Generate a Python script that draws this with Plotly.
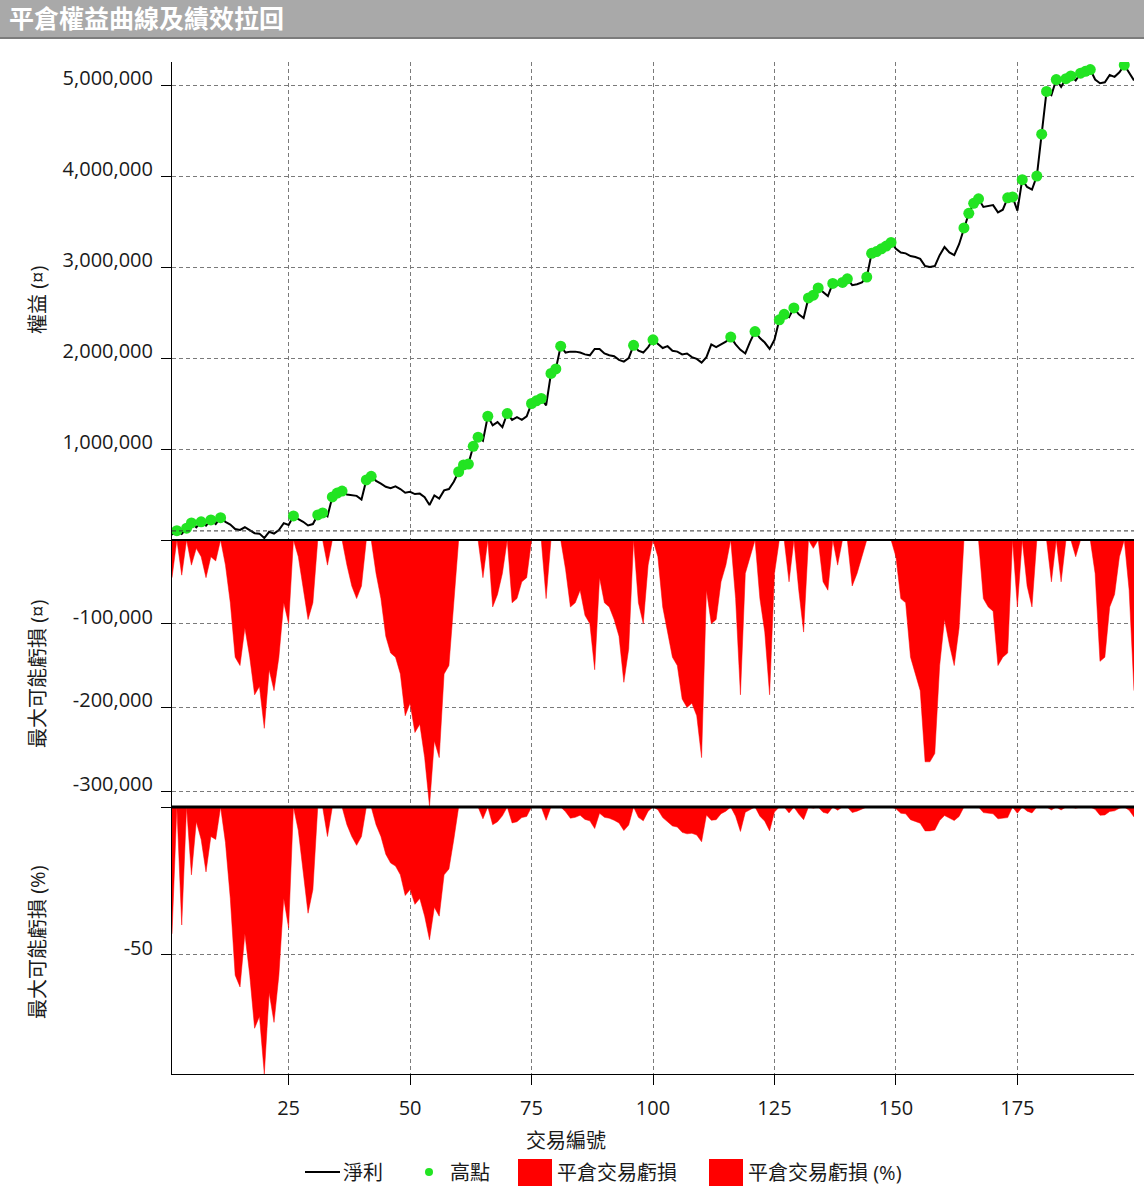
import plotly.graph_objects as go

# ---------------- data ----------------
trade_no = list(range(1, 200))

equity = [
    58000, 103000, 66000, 130000, 187000, 140000, 200000, 157000, 220000, 176000,
    245000, 200000, 170000, 120000, 110000, 140000, 110000, 75000, 70000, 22000,
    90000, 70000, 110000, 185000, 165000, 264000, 230000, 200000, 160000, 175000,
    275000, 297000, 260000, 473000, 516000, 538000, 500000, 490000, 485000, 445000,
    660000, 700000, 650000, 620000, 585000, 570000, 590000, 560000, 520000, 530000,
    505000, 510000, 470000, 385000, 490000, 455000, 545000, 560000, 640000, 750000,
    825000, 835000, 1030000, 1130000, 1090000, 1360000, 1260000, 1295000, 1240000, 1390000,
    1320000, 1350000, 1320000, 1360000, 1500000, 1530000, 1555000, 1480000, 1830000, 1880000,
    2130000, 2060000, 2070000, 2070000, 2060000, 2040000, 2030000, 2100000, 2100000, 2050000,
    2030000, 2020000, 1980000, 1960000, 2000000, 2140000, 2080000, 2060000, 2120000, 2200000,
    2160000, 2110000, 2130000, 2080000, 2070000, 2040000, 2050000, 2010000, 1990000, 1950000,
    2010000, 2150000, 2120000, 2150000, 2180000, 2230000, 2150000, 2090000, 2050000, 2180000,
    2290000, 2220000, 2170000, 2100000, 2200000, 2420000, 2480000, 2450000, 2550000, 2480000,
    2440000, 2660000, 2690000, 2770000, 2720000, 2680000, 2820000, 2800000, 2830000, 2870000,
    2800000, 2810000, 2830000, 2890000, 3150000, 3170000, 3200000, 3230000, 3270000, 3200000,
    3160000, 3150000, 3120000, 3110000, 3090000, 3010000, 3000000, 3010000, 3130000, 3220000,
    3160000, 3130000, 3250000, 3430000, 3590000, 3700000, 3750000, 3660000, 3670000, 3680000,
    3600000, 3630000, 3760000, 3770000, 3620000, 3960000, 3880000, 3850000, 4000000, 4460000,
    4930000, 4890000, 5060000, 4980000, 5070000, 5100000, 5050000, 5130000, 5150000, 5170000,
    5060000, 5020000, 5030000, 5110000, 5090000, 5140000, 5220000, 5140000, 5050000,
]

high_trades = [2, 4, 5, 7, 9, 11, 26, 31, 32, 34, 35, 36, 41, 42, 60, 61, 62, 63, 64, 66,
               70, 75, 76, 77, 79, 80, 81, 96, 100, 116, 121, 126, 127, 129, 132, 133, 134,
               137, 139, 140, 144, 145, 146, 147, 148, 149, 164, 165, 166, 167, 173, 174,
               176, 179, 180, 181, 183, 185, 186, 188, 189, 190, 197]

drawdown = [
    -45000, 0, -42000, 0, -30000, -10000, -20000, -45000, -20000, -25000,
    0, -30000, -75000, -140000, -150000, -105000, -140000, -185000, -175000, -225000,
    -155000, -180000, -140000, -75000, -100000, 0, -20000, -60000, -95000, -75000,
    0, 0, -30000, 0, 0, 0, -30000, -55000, -70000, -55000,
    0, 0, -40000, -70000, -115000, -135000, -140000, -160000, -210000, -195000,
    -230000, -220000, -260000, -318000, -240000, -260000, -160000, -150000, -75000, 0,
    0, 0, 0, 0, -45000, 0, -80000, -65000, -40000, 0,
    -75000, -70000, -50000, -45000, 0, 0, 0, -70000, 0, 0,
    0, -35000, -80000, -75000, -60000, -90000, -100000, -155000, -45000, -75000,
    -80000, -95000, -115000, -170000, -130000, 0, -75000, -100000, -30000, 0,
    -20000, -80000, -110000, -140000, -150000, -190000, -200000, -195000, -210000, -260000,
    -60000, -100000, -95000, -50000, -30000, 0, -70000, -185000, -40000, -20000,
    0, -70000, -110000, -185000, -40000, 0, 0, -50000, 0, -60000,
    -110000, 0, -10000, 0, -50000, -60000, 0, -30000, 0, 0,
    -55000, -40000, -20000, 0, 0, 0, 0, 0, 0, -20000,
    -70000, -75000, -140000, -160000, -180000, -265000, -265000, -255000, -150000, -95000,
    -125000, -150000, -105000, 0, 0, 0, 0, -70000, -80000, -85000,
    -150000, -140000, -135000, 0, -80000, 0, -55000, -80000, 0, 0,
    0, -50000, 0, -50000, 0, 0, -20000, 0, 0, 0,
    -40000, -145000, -140000, -80000, -65000, -20000, 0, -60000, -180000,
]

drawdown_pct = [
    -43, 0, -40, 0, -23, -5, -11, -22, -10, -11,
    0, -12, -31, -57, -61, -43, -57, -75, -71, -90.5,
    -63, -73, -57, -31, -41, 0, -8, -23, -36, -28,
    0, 0, -10, 0, 0, 0, -6, -10, -13, -10,
    0, 0, -6, -10, -16, -19, -20, -23, -30, -28,
    -33, -31, -37, -45, -34, -37, -23, -21, -11, 0,
    0, 0, 0, 0, -4, 0, -6, -5, -3, 0,
    -5.4, -5, -3.6, -3.2, 0, 0, 0, -4.5, 0, 0,
    0, -1.6, -3.8, -3.5, -2.8, -4.2, -4.7, -7.3, -2.1, -3.5,
    -3.8, -4.5, -5.4, -8.0, -6.1, 0, -3.5, -4.7, -1.4, 0,
    -0.9, -3.6, -5.0, -6.4, -6.8, -8.6, -9.1, -8.9, -9.5, -11.8,
    -2.7, -4.5, -4.3, -2.3, -1.4, 0, -3.1, -8.3, -1.8, -0.9,
    0, -3.1, -4.8, -8.1, -1.7, 0, 0, -2.0, 0, -2.4,
    -4.3, 0, -0.4, 0, -1.8, -2.2, 0, -1.1, 0, 0,
    -1.9, -1.4, -0.7, 0, 0, 0, 0, 0, 0, -0.6,
    -2.1, -2.3, -4.3, -4.9, -5.5, -8.1, -8.1, -7.8, -4.6, -2.9,
    -3.8, -4.6, -3.2, 0, 0, 0, 0, -1.9, -2.1, -2.3,
    -4.0, -3.7, -3.6, 0, -2.1, 0, -1.4, -2.0, 0, 0,
    0, -1.0, 0, -1.0, 0, 0, -0.4, 0, 0, 0,
    -0.8, -2.8, -2.7, -1.5, -1.3, -0.4, 0, -1.1, -3.4,
]

initial_capital = 100000

x_ticks = [25, 50, 75, 100, 125, 150, 175]
eq_ticks = [0, 1000000, 2000000, 3000000, 4000000, 5000000]
eq_ticktext = ["", "1,000,000", "2,000,000", "3,000,000", "4,000,000", "5,000,000"]
dd_ticks = [0, -100000, -200000, -300000]
dd_ticktext = ["", "-100,000", "-200,000", "-300,000"]
pct_ticks = [0, -50]
pct_ticktext = ["", "-50"]

title_text = "平倉權益曲線及績效拉回"
y1_title = "權益 (¤)"
y2_title = "最大可能虧損 (¤)"
y3_title = "最大可能虧損 (%)"
x_title = "交易編號"
legend_names = ["淨利", "高點", "平倉交易虧損", "平倉交易虧損 (%)"]

# ---------------- geometry ----------------
W, H = 1144, 1188
L, R, T, B = 172, 10, 62, 114
PW, PH = W - L - R, H - T - B


def px(xp):
    return (xp - L) / PW


def py(yp):
    return (H - B - yp) / PH


FONT = "Open Sans, Noto Sans CJK TC, sans-serif"
GRID = "#7a7a7a"
TXT = "#1a1a1a"
high_equity = [equity[t - 1] for t in high_trades]

fig = go.Figure()
fig.add_trace(go.Scatter(x=trade_no, y=equity, mode="lines", name=legend_names[0],
                         line=dict(color="black", width=2), xaxis="x2", yaxis="y",
                         showlegend=False))
fig.add_trace(go.Scatter(x=high_trades, y=high_equity, mode="markers", name=legend_names[1],
                         marker=dict(color="#22e422", size=11), xaxis="x2", yaxis="y",
                         showlegend=False))
fig.add_trace(go.Scatter(x=trade_no, y=drawdown, mode="lines", name=legend_names[2],
                         fill="tozeroy", fillcolor="#ff0000",
                         line=dict(color="#ff0000", width=0.5), xaxis="x3", yaxis="y2",
                         showlegend=False))
fig.add_trace(go.Scatter(x=trade_no, y=drawdown_pct, mode="lines", name=legend_names[3],
                         fill="tozeroy", fillcolor="#ff0000",
                         line=dict(color="#ff0000", width=0.5), xaxis="x", yaxis="y3",
                         showlegend=False))

d_top = py(540)
d_mid = py(807)

xcommon = dict(range=[1, 199], tickvals=x_ticks, showgrid=True, gridcolor=GRID,
               griddash="4px,3px", gridwidth=1, zeroline=False)
ycommon = dict(showgrid=True, gridcolor=GRID, griddash="4px,3px", gridwidth=1,
               zeroline=False, showline=True, linecolor="black", linewidth=1,
               ticks="outside", ticklen=10, tickcolor="black", ticklabelshift=-7,
               ticklabelstandoff=4,
               tickfont=dict(family=FONT, size=20, color=TXT))

fig.update_layout(
    width=W, height=H,
    margin=dict(l=L, r=R, t=T, b=B),
    paper_bgcolor="white", plot_bgcolor="white",
    showlegend=False,
    font=dict(family=FONT, size=20, color=TXT),
    xaxis=dict(domain=[0, 1], anchor="y3", showline=True, linecolor="black", linewidth=1,
               ticks="outside", ticklen=10, tickcolor="black", ticklabelstandoff=6,
               tickfont=dict(family=FONT, size=20, color=TXT), **xcommon),
    xaxis2=dict(domain=[0, 1], anchor="y", matches="x", showticklabels=False, ticks="",
                showline=False, **xcommon),
    xaxis3=dict(domain=[0, 1], anchor="y2", matches="x", showticklabels=False, ticks="",
                showline=False, **xcommon),
    yaxis=dict(domain=[d_top, 1], anchor="x2", range=[0, 5253000], tickvals=eq_ticks,
               ticktext=eq_ticktext, **ycommon),
    yaxis2=dict(domain=[d_mid, d_top], anchor="x3", range=[-319000, 0], tickvals=dd_ticks,
                ticktext=dd_ticktext, **ycommon),
    yaxis3=dict(domain=[0, d_mid], anchor="x", range=[-90.5, 0], tickvals=pct_ticks,
                ticktext=pct_ticktext, **ycommon),
)

shapes = [
    # title bar
    dict(type="rect", xref="paper", yref="paper", x0=px(0), x1=px(W), y0=py(0), y1=py(37),
         fillcolor="#a9a9a9", line=dict(width=0), layer="below"),
    dict(type="line", xref="paper", yref="paper", x0=px(0), x1=px(W), y0=py(38), y1=py(38),
         line=dict(color="#7c7c7c", width=2)),
    # initial capital line
    dict(type="line", xref="paper", yref="y", x0=0, x1=1, y0=initial_capital, y1=initial_capital,
         line=dict(color="#333", width=1, dash="4px,3px")),
    # panel separators
    dict(type="line", xref="paper", yref="paper", x0=0, x1=1, y0=d_top, y1=d_top,
         line=dict(color="black", width=2)),
    dict(type="line", xref="paper", yref="paper", x0=0, x1=1, y0=d_mid, y1=d_mid,
         line=dict(color="black", width=3)),
    # legend symbols
    dict(type="line", xref="paper", yref="paper", x0=px(305), x1=px(340), y0=py(1172), y1=py(1172),
         line=dict(color="black", width=2)),
    dict(type="circle", xref="paper", yref="paper", x0=px(425), x1=px(433), y0=py(1168), y1=py(1176),
         fillcolor="#22e422", line=dict(width=0)),
    dict(type="rect", xref="paper", yref="paper", x0=px(518), x1=px(552), y0=py(1159), y1=py(1186),
         fillcolor="#ff0000", line=dict(width=0)),
    dict(type="rect", xref="paper", yref="paper", x0=px(709), x1=px(743), y0=py(1159), y1=py(1186),
         fillcolor="#ff0000", line=dict(width=0)),
]
fig.update_layout(shapes=shapes)

ann = [
    dict(text="<b>" + title_text + "</b>", x=px(7), y=py(18), xanchor="left", yanchor="middle",
         font=dict(family=FONT, size=25, color="white"), showarrow=False),
    dict(text=y1_title, x=px(37), y=py(300), textangle=-90, xanchor="center", yanchor="middle",
         font=dict(family=FONT, size=20, color=TXT), showarrow=False),
    dict(text=y2_title, x=px(37), y=py(674), textangle=-90, xanchor="center", yanchor="middle",
         font=dict(family=FONT, size=20, color=TXT), showarrow=False),
    dict(text=y3_title, x=px(37), y=py(942), textangle=-90, xanchor="center", yanchor="middle",
         font=dict(family=FONT, size=20, color=TXT), showarrow=False),
    dict(text=x_title, x=px(566), y=py(1140), xanchor="center", yanchor="middle",
         font=dict(family=FONT, size=20, color=TXT), showarrow=False),
    dict(text=legend_names[0], x=px(341), y=py(1172), xanchor="left", yanchor="middle",
         font=dict(family=FONT, size=20, color=TXT), showarrow=False),
    dict(text=legend_names[1], x=px(448), y=py(1172), xanchor="left", yanchor="middle",
         font=dict(family=FONT, size=20, color=TXT), showarrow=False),
    dict(text=legend_names[2], x=px(555), y=py(1172), xanchor="left", yanchor="middle",
         font=dict(family=FONT, size=20, color=TXT), showarrow=False),
    dict(text=legend_names[3], x=px(746), y=py(1172), xanchor="left", yanchor="middle",
         font=dict(family=FONT, size=20, color=TXT), showarrow=False),
]
for a in ann:
    a.update(xref="paper", yref="paper")
fig.update_layout(annotations=ann)

fig.write_html("out.html")
